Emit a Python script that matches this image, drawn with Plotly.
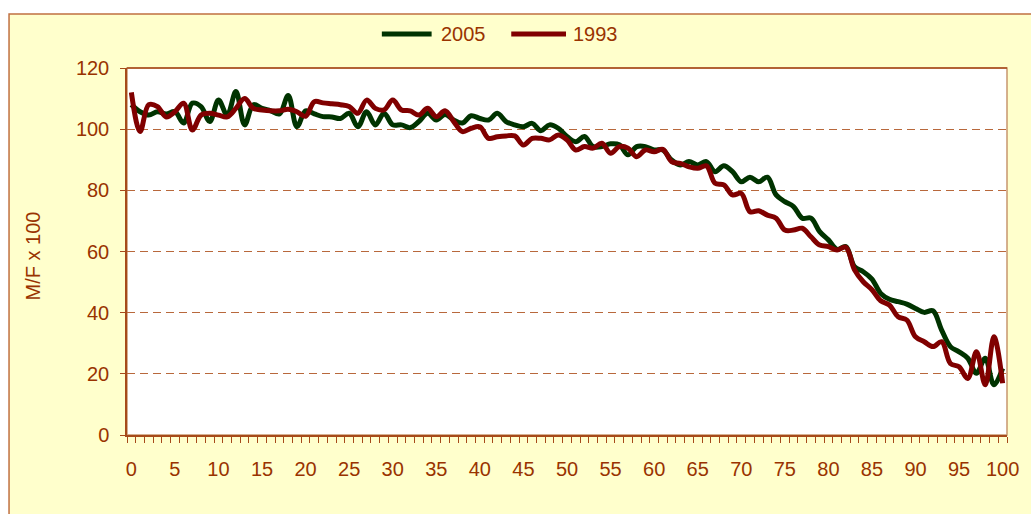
import plotly.graph_objects as go

ages = list(range(0, 101))

ratio_2005 = [108, 105.7, 104.6, 105.7, 105, 105.7, 102, 108.5, 107.4, 102.5,
              109.5, 104.6, 112.3, 101.4, 108, 106.8, 106, 105, 111, 100.8,
              106, 105, 104.1, 104, 103.5, 105.2, 100.8, 105.7, 101.4, 105.2,
              101.4, 101.4, 100.5, 102.5, 105.2, 103, 104.8, 103, 102, 104.4,
              103.5, 103, 105.2, 102.5, 101.4, 100.8, 101.9, 99.5, 101.4, 100.3,
              97.6, 95.9, 97.6, 94.3, 94.3, 95.2, 94.9, 91.6, 94.3, 94.3,
              93.2, 93.2, 89.9, 88.3, 89.4, 88.3, 89.4, 86.1, 88, 86.1,
              82.8, 84.3, 82.8, 84.3, 78.5, 76.3, 74.7, 70.9, 70.9, 66.5,
              63.8, 60.7, 61.6, 55, 53.4, 51, 46.3, 44.4, 43.6, 42.8,
              41.4, 40.1, 40.6, 34.3, 28.9, 27.2, 25.1, 20.2, 25.1, 16.4,
              21.8]

ratio_1993 = [112, 99.2, 108, 107.4, 104, 105.7, 108.5, 99.7, 104.6, 105.2,
              104.6, 104, 106.8, 110, 106.8, 106.3, 106, 106, 106.5, 105.7,
              104.2, 109, 108.6, 108.3, 108, 107.4, 105.2, 109.5, 106.8, 106.3,
              109.5, 106.3, 106, 104.6, 106.8, 104.1, 106, 102.5, 99.2, 100.3,
              100.8, 97, 97.5, 97.8, 97.8, 94.8, 97, 97, 96.5, 98.1,
              96.5, 93.2, 94.3, 93.8, 95.4, 92.1, 94.3, 93.8, 91, 93.2,
              92.6, 93.4, 89.4, 88.8, 87.7, 87.2, 88, 82.3, 81.8, 78.5,
              79, 73, 73.3, 71.9, 70.9, 67, 67, 67.6, 64.8, 62.1,
              61.6, 60.5, 61.4, 54, 50.1, 47.5, 43.9, 42.5, 38.7, 37.6,
              32.1, 30.5, 28.9, 30.5, 23.4, 22.3, 18.5, 27.2, 16.4, 32.1,
              16.9]

series_names = ["2005", "1993"]
x_tick_vals = list(range(0, 101, 5))
y_tick_vals = list(range(0, 121, 20))

TXT = "#993300"
FONT = "Liberation Sans, Arial, sans-serif"
C2005 = "#003300"
C1993 = "#800000"
LW = 5

fig = go.Figure()
fig.add_trace(go.Scatter(x=ages, y=ratio_2005, name=series_names[0], mode="lines",
                         line=dict(color=C2005, width=LW, shape="spline", smoothing=1)))
fig.add_trace(go.Scatter(x=ages, y=ratio_1993, name=series_names[1], mode="lines",
                         line=dict(color=C1993, width=LW, shape="spline", smoothing=1)))

W, H = 1031, 514
PL, PR, PT, PB = 127, 1011, 68, 435  # plot area in page pixels
L, R, T, B = PL, W - PR, PT, H - PB
pw = W - L - R
ph = H - T - B

def px_x(p):
    return (p - L) / pw

def px_y(p):
    return (H - B - p) / ph

LEG_Y = 34
legend_keys = [(383, 433, 440, C2005, series_names[0]),
               (513, 568, 573, C1993, series_names[1])]

shapes = [
    dict(type="rect", xref="paper", yref="paper", layer="below",
         x0=px_x(8.5), x1=px_x(1045), y0=px_y(530), y1=px_y(14),
         fillcolor="#FFFFCC", line=dict(color="#C07040", width=1.5)),
    dict(type="rect", xref="x domain", yref="y domain", layer="below",
         x0=0, x1=1, y0=0, y1=1,
         fillcolor="white", line=dict(color="#C8966E", width=1.5)),
    dict(type="line", xref="x domain", yref="y domain", layer="above",
         x0=0, x1=1, y0=1, y1=1, line=dict(color="#A64A1A", width=1.5)),
]
annotations = [
    dict(text="M/F x 100", xref="paper", yref="paper", x=px_x(33), y=px_y(256),
         xanchor="center", yanchor="middle", textangle=-90, showarrow=False,
         font=dict(size=20, color=TXT)),
]
for x0, x1, tx, col, name in legend_keys:
    shapes.append(dict(type="line", xref="paper", yref="paper", layer="above",
                       x0=px_x(x0), x1=px_x(x1), y0=px_y(LEG_Y), y1=px_y(LEG_Y),
                       line=dict(color=col, width=LW)))
    annotations.append(dict(text=name, xref="paper", yref="paper", x=px_x(tx), y=px_y(LEG_Y),
                            xanchor="left", yanchor="middle", showarrow=False,
                            font=dict(size=20, color=TXT)))

fig.update_layout(
    width=W, height=H,
    margin=dict(l=L, r=R, t=T, b=B),
    paper_bgcolor="white",
    plot_bgcolor="white",
    font=dict(family=FONT, size=20, color=TXT),
    showlegend=False,
    shapes=shapes,
    annotations=annotations,
)

fig.update_xaxes(
    range=[-0.5, 100.5],
    tickmode="array", tickvals=x_tick_vals, ticktext=[str(v) for v in x_tick_vals],
    ticks="outside", ticklen=15, tickcolor="rgba(0,0,0,0)",
    showgrid=False, zeroline=False,
    showline=True, linecolor="#A64A1A", linewidth=1.5,
    minor=dict(tickmode="linear", tick0=-0.5, dtick=1, ticks="outside", ticklen=6,
               tickcolor="#A64A1A", tickwidth=1, showgrid=False),
    tickfont=dict(size=20, color=TXT),
)

fig.update_yaxes(
    range=[0, 120],
    tickmode="array", tickvals=y_tick_vals,
    ticks="outside", ticklen=5, tickcolor="#A64A1A", tickwidth=1,
    ticklabelstandoff=7,
    showgrid=True, gridcolor="#B8683C", gridwidth=1, griddash="8px,5px",
    zeroline=False,
    showline=True, linecolor="#A64A1A", linewidth=1.5,
    tickfont=dict(size=20, color=TXT),
)

fig.write_html("out.html", config={"displayModeBar": False},
               post_script="document.body.style.margin='0';document.body.style.overflow='hidden';")
